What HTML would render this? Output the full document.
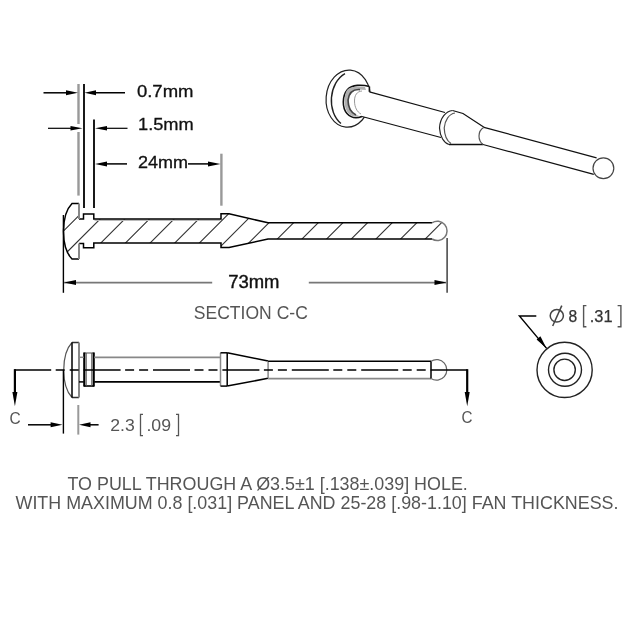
<!DOCTYPE html>
<html><head><meta charset="utf-8"><style>
html,body{margin:0;padding:0;background:#fff;width:640px;height:640px;overflow:hidden}
svg{display:block;filter:blur(0.4px)}
text{font-family:"Liberation Sans",sans-serif}
</style></head><body>
<svg width="640" height="640" viewBox="0 0 640 640">
<rect width="640" height="640" fill="#fff"/>

<!-- ===== TOP DIMENSIONS ===== -->
<g stroke="#000" stroke-width="1.5" fill="none">
  <!-- ext lines -->
  <line x1="78.5" y1="84" x2="78.5" y2="124" stroke="#999" stroke-width="2.4"/>
  <line x1="78.5" y1="132" x2="78.5" y2="195.6" stroke="#999" stroke-width="2.4"/>
  <line x1="84" y1="84" x2="84" y2="208" stroke-width="1.8"/>
  <line x1="94" y1="119.5" x2="94" y2="208" stroke-width="1.8"/>
  <line x1="221.4" y1="153.7" x2="221.4" y2="205.7" stroke="#999" stroke-width="2.4"/>
  <!-- 0.7 -->
  <line x1="43.5" y1="92.8" x2="70" y2="92.8"/>
  <line x1="92" y1="92.8" x2="125" y2="92.8"/>
  <!-- 1.5 -->
  <line x1="48" y1="128.3" x2="72" y2="128.3" stroke-width="1.2"/>
  <line x1="104" y1="128.3" x2="127.5" y2="128.3" stroke-width="1.2"/>
  <!-- 24 -->
  <line x1="104" y1="163.9" x2="127" y2="163.9"/>
  <line x1="188" y1="163.9" x2="210" y2="163.9"/>
</g>
<g fill="#000">
  <path d="M66,90.3 L78,92.8 L66,95.3Z"/>
  <path d="M96,90.3 L84.5,92.8 L96,95.3Z"/>
  <path d="M70.5,126 L82.5,128.3 L70.5,130.6Z"/>
  <path d="M107,126 L95,128.3 L107,130.6Z"/>
  <path d="M107,161.4 L95,163.9 L107,166.4Z"/>
  <path d="M208,161.4 L220.5,163.9 L208,166.4Z"/>
</g>
<g font-size="17" fill="#111" stroke="#111" stroke-width="0.3">
  <text x="136.9" y="97.4" textLength="56.6" lengthAdjust="spacingAndGlyphs">0.7mm</text>
  <text x="138" y="130.4" textLength="55.7" lengthAdjust="spacingAndGlyphs">1.5mm</text>
  <text x="138" y="168.4" textLength="50" lengthAdjust="spacingAndGlyphs">24mm</text>
</g>

<!-- ===== SECTION VIEW ===== -->
<defs>
  <clipPath id="secclip">
    <path d="M72,203.5 L79,203.5 L79,219 L83.5,219 L83.5,214 L93.8,214 L93.8,219 L221,219 L221,213.8 L229,213.8 L268,222.8 L432,222.8 A9.7,9.7 0 1 1 432,239 L268,239 L229,247.5 L221,247.5 L221,243 L93.8,243 L93.8,247.8 L83.5,247.8 L83.5,243.5 L79,243.5 L79,259 L72,259 A15.5,31.1 0 0 1 72,203.5Z"/>
  </clipPath>
</defs>
<g clip-path="url(#secclip)" stroke="#333" stroke-width="1.1">
  <path d="M99.50,195 L29.50,265 M124.15,195 L54.15,265 M148.80,195 L78.80,265 M173.45,195 L103.45,265 M198.10,195 L128.10,265 M222.75,195 L152.75,265 M247.40,195 L177.40,265 M272.05,195 L202.05,265 M296.70,195 L226.70,265 M321.35,195 L251.35,265 M346.00,195 L276.00,265 M370.65,195 L300.65,265 M395.30,195 L325.30,265 M419.95,195 L349.95,265 M444.60,195 L374.60,265 M469.25,195 L399.25,265"/>
</g>
<g stroke="#000" stroke-width="1.5" fill="none">
  <line x1="94.5" y1="220.3" x2="220.3" y2="220.3" stroke="#bbb" stroke-width="1.4"/>
  <path d="M79,219 L83.5,219 L83.5,214 L93.8,214 L93.8,219 L221,219 L221,213.8 L229,213.8 L268,222.8 L432,222.8"/>
  <path d="M79,243.5 L83.5,243.5 L83.5,247.8 L93.8,247.8 L93.8,243 L221,243 L221,247.5 L229,247.5 L268,239 L432,239"/>
  <path d="M79,203.5 L72,203.5 A15.5,31.1 0 0 0 72,259 L79,259"/>
  <path d="M432,222.8 A9.7,9.7 0 1 1 432,239" stroke="#777"/>
</g>
<path d="M79,203.5 L79,219 M79,243.5 L79,259" stroke="#888" stroke-width="2"/>
<!-- 73 ext lines -->
<line x1="63.4" y1="215" x2="63.4" y2="292.8" stroke="#000" stroke-width="1.4"/>
<line x1="447.1" y1="238" x2="447.1" y2="292.8" stroke="#333" stroke-width="1.4"/>
<!-- 73 dim -->
<line x1="64" y1="282.6" x2="212.2" y2="282.6" stroke="#777" stroke-width="1.6"/>
<line x1="308.8" y1="282.6" x2="446" y2="282.6" stroke="#777" stroke-width="1.6"/>
<path d="M76,280.1 L64,282.6 L76,285.1Z" fill="#000"/>
<path d="M434.5,280.1 L446.5,282.6 L434.5,285.1Z" fill="#000"/>
<text x="228.2" y="288.1" font-size="17.7" fill="#111" stroke="#111" stroke-width="0.4" textLength="51.3" lengthAdjust="spacingAndGlyphs">73mm</text>
<text x="193.8" y="319" font-size="17.7" fill="#555" textLength="114" lengthAdjust="spacingAndGlyphs">SECTION C-C</text>

<!-- ===== SIDE VIEW ===== -->
<g stroke="#000" stroke-width="1.5" fill="none">
  <!-- head -->
  <path d="M72,342.5 A15.5,31.1 0 0 0 72,397.5" stroke="#555" stroke-width="1.2"/>
  <path d="M72,342.5 L79,342.5 M72,397.5 L79,397.5" stroke="#333"/>
  <line x1="72" y1="342.5" x2="72" y2="397.5"/>
  <line x1="79" y1="342.5" x2="79" y2="397.5" stroke="#888" stroke-width="2"/>
  <!-- collar -->
  <line x1="83.8" y1="353" x2="94.2" y2="353" stroke="#777" stroke-width="1.3"/>
  <line x1="83.8" y1="386" x2="94.2" y2="386" stroke-width="1.6"/>
  <line x1="84.3" y1="352.5" x2="84.3" y2="386.5" stroke-width="2.2"/>
  <line x1="93.7" y1="352.5" x2="93.7" y2="386.5" stroke-width="2.2"/>
  <line x1="86.3" y1="353" x2="86.3" y2="386" stroke-width="0.9" stroke="#555"/>
  <line x1="91.7" y1="353" x2="91.7" y2="386" stroke-width="0.9" stroke="#555"/>
  <!-- shaft -->
  <line x1="79" y1="357.3" x2="83.8" y2="357.3" stroke="#888"/>
  <line x1="94.2" y1="357.3" x2="220.5" y2="357.3" stroke="#888" stroke-width="1.8"/>
  <line x1="79" y1="381.9" x2="83.8" y2="381.9"/>
  <line x1="94.2" y1="381.9" x2="220.5" y2="381.9" stroke-width="1.8"/>
  <!-- taper collar -->
  <line x1="220.5" y1="352.8" x2="220.5" y2="386.1" stroke="#888"/>
  <line x1="227.2" y1="352.8" x2="227.2" y2="386.1"/>
  <line x1="220.5" y1="352.8" x2="227.2" y2="352.8"/>
  <line x1="220.5" y1="386.1" x2="227.2" y2="386.1"/>
  <line x1="227.2" y1="352.8" x2="268.1" y2="361.1"/>
  <line x1="227.2" y1="386.1" x2="268.1" y2="378.3"/>
  <line x1="268.1" y1="361.1" x2="268.1" y2="378.3" stroke="#888"/>
  <!-- thin shaft -->
  <line x1="268.1" y1="361.2" x2="431" y2="361.2"/>
  <line x1="268.1" y1="378.6" x2="431" y2="378.6" stroke="#888" stroke-width="1.8"/>
  <line x1="431" y1="361.2" x2="431" y2="378.6"/>
  <path d="M431,361.2 A10.3,10.3 0 1 1 431,378.6" stroke="#666" stroke-width="1.2"/>
</g>
<!-- centerline / section line -->
<line x1="14.2" y1="369.9" x2="467.6" y2="369.9" stroke="#000" stroke-width="1.5" stroke-dasharray="37 4.5 9 5 9 4.9"/>
<line x1="14.9" y1="369.2" x2="14.9" y2="394" stroke="#000" stroke-width="2.2"/>
<line x1="467.2" y1="369.2" x2="467.2" y2="394" stroke="#000" stroke-width="2.2"/>
<path d="M12.4,392 L14.9,406.3 L17.4,392Z" fill="#000"/>
<path d="M464.7,392 L467.2,406.3 L469.7,392Z" fill="#000"/>
<text x="9.5" y="423.6" font-size="17" fill="#555" textLength="11.2" lengthAdjust="spacingAndGlyphs">C</text>
<text x="461.4" y="423.1" font-size="17" fill="#555" textLength="11" lengthAdjust="spacingAndGlyphs">C</text>
<!-- 2.3 dim -->
<line x1="63.4" y1="370" x2="63.4" y2="433.6" stroke="#000" stroke-width="1.4"/>
<line x1="78.3" y1="405" x2="78.3" y2="434.6" stroke="#999" stroke-width="2"/>
<line x1="28" y1="424.8" x2="52" y2="424.8" stroke="#000" stroke-width="1.5"/>
<path d="M50.6,422.3 L62.5,424.8 L50.6,427.3Z" fill="#000"/>
<line x1="88" y1="424.8" x2="98.6" y2="424.8" stroke="#000" stroke-width="1.5"/>
<path d="M90.5,422.3 L79,424.8 L90.5,427.3Z" fill="#000"/>
<g font-size="17" fill="#555">
  <text x="110.2" y="431.4" textLength="24.5" lengthAdjust="spacingAndGlyphs">2.3</text>
  <text x="146.4" y="431.4" textLength="24.6" lengthAdjust="spacingAndGlyphs">.09</text>
</g>
<path d="M143,414.3 L140.5,414.3 L140.5,435.6 L143,435.6 M176,414.3 L178.5,414.3 L178.5,435.6 L176,435.6" stroke="#555" stroke-width="1.3" fill="none"/>

<!-- ===== END VIEW ===== -->
<g stroke="#222" stroke-width="1.4" fill="none">
  <circle cx="564.6" cy="369.9" r="27.6"/>
  <circle cx="565" cy="369.8" r="16.5"/>
  <circle cx="564.6" cy="369.8" r="10.7"/>
  <path d="M536.3,316 L519.4,316 L546.6,348.4" stroke="#000"/>
</g>
<path d="M536.6,339.4 L546.6,348.4 L540.4,336.2Z" fill="#000"/>
<g font-size="16.5" fill="#333" stroke="#333" stroke-width="0.25">
  <text x="568.6" y="321.8" textLength="8.7" lengthAdjust="spacingAndGlyphs">8</text>
  <text x="589.8" y="321.8" textLength="22.8" lengthAdjust="spacingAndGlyphs">.31</text>
</g>
<g stroke="#444" stroke-width="1.5" fill="none">
  <ellipse cx="556.8" cy="315.8" rx="6.6" ry="6.3"/>
  <line x1="552.7" y1="326" x2="561.8" y2="305.6"/>
</g>
<path d="M586.4,305.6 L583.6,305.6 L583.6,326.7 L586.4,326.7 M617.6,305.6 L620.9,305.6 L620.9,326.7 L617.6,326.7" stroke="#555" stroke-width="1.4" fill="none"/>

<!-- ===== ISOMETRIC VIEW ===== -->
<defs>
  <clipPath id="flclip"><ellipse cx="348.2" cy="98.6" rx="22.1" ry="28.6" transform="rotate(4.5 348.2 98.6)"/></clipPath>
</defs>
<g stroke="#222" stroke-width="1.2" fill="none">
  <ellipse cx="348.2" cy="98.6" rx="22.1" ry="28.6" transform="rotate(4.5 348.2 98.6)"/>
  <g clip-path="url(#flclip)"><path d="M345,73.6 A21,28 4.5 0 0 341,123.5" stroke="#222" stroke-width="1.4"/></g>
  <path d="M369.4,86.5 C362,84.5 352,84.5 347.5,89.5 C342,96 342,108 347,113.5 C352,119 358,118 362,116.5 L441,137.5 L445,112.5 L369.4,91.8Z" fill="#fff" stroke="none"/>
  <path d="M369.4,86.5 C362,84.5 352,84.5 347.5,89.5 C342,96 342,108 347,113.5 C352,119 358,118 362,116.5" stroke="#111" stroke-width="1.6"/>
  <path d="M365,87 C358,86 351,86.5 347.5,89.5 C343.5,94 343.5,107 347.5,112.5 C351,117 356,117 360,116.5 L358,115.5 C353,114 349.5,110 349,101 C349,95 352,91 358,89.6 L366,90Z" fill="#b0b0b0" stroke="none"/>
  <path d="M360,89.6 C353,89 349,93 348,100 C348,107 350,112 356,115" stroke="#444" stroke-width="1.6"/>
  <path d="M362,91 C357,91.5 354.5,95 354.5,101 C354.5,107 357,112 361,114" stroke="#999" stroke-width="1"/>
  <path d="M369.4,86.5 L369.4,91.8" stroke="#111" stroke-width="1.6"/>
  <path d="M369.4,91.8 L445,112.5" stroke="#111"/>
  <path d="M362,116.5 L441,137.5" stroke="#111"/>
  <path d="M452.5,110.5 C446,111 440,118 439.5,128 C440,137 444,143 449,144.5" stroke="#222"/>
  <path d="M455,113 C449,114 445,120 444.2,128 C444.5,136 447,141 451,143.5" stroke="#555"/>
  <path d="M452.5,110.5 L463,113.5 L484,127.3" stroke="#111"/>
  <path d="M449,144.5 L483,144.5" stroke="#111" stroke-width="1.6"/>
  <path d="M484,127.3 C481,129 479,132 479,136 C479,139.5 480.5,142.5 483,144.5" stroke="#555"/>
  <path d="M484,127.3 L596.6,157.9" stroke="#111"/>
  <path d="M483,144.5 L593.8,174.3" stroke="#111"/>
  <circle cx="603.4" cy="168.25" r="10.4" stroke="#444"/>
</g>
<!-- ===== BOTTOM TEXT ===== -->
<g font-size="17.7" fill="#555">
  <text x="67.5" y="490.2" textLength="400.3" lengthAdjust="spacingAndGlyphs">TO PULL THROUGH A Ø3.5±1 [.138±.039] HOLE.</text>
  <text x="15.5" y="509.3" textLength="603" lengthAdjust="spacingAndGlyphs">WITH MAXIMUM 0.8 [.031] PANEL AND 25-28 [.98-1.10] FAN THICKNESS.</text>
</g>
</svg>
</body></html>
